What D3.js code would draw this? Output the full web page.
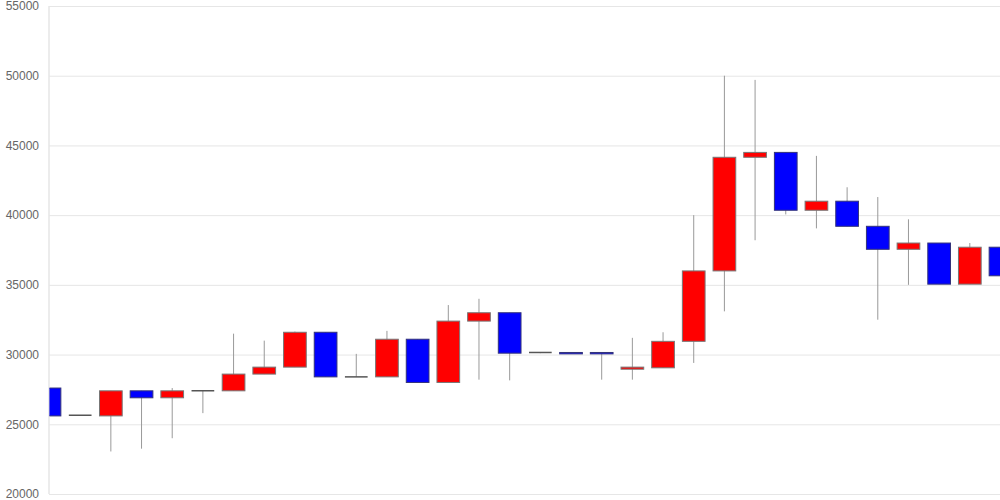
<!DOCTYPE html>
<html>
<head>
<meta charset="utf-8">
<script src="https://cdn.jsdelivr.net/npm/d3@7"></script>
<style>
  body { margin: 0; background: #fff; }
  text { font-family: "Liberation Sans", Arial, sans-serif; }
</style>
</head>
<body>
<svg id="chart" width="1000" height="500"></svg>
<script>
// candle data (one entry per day)
var opens  = [27600, 25650, 25600, 27400, 26900, 27400, 27400, 28600, 29100, 31600,
              28400, 28400, 31100, 28000, 32400, 33000, 30150, 30150, 30150, 28950,
              29050, 30950, 36000, 44150, 44500, 40350, 41000, 39200, 37550, 38000,
              35050, 37700];
var closes = [25600, 25650, 27400, 26900, 27400, 27400, 28600, 29100, 31600, 28400,
              28400, 31100, 28000, 32400, 33000, 30100, 30150, 30050, 30050, 29100,
              30950, 36000, 44150, 44500, 40350, 41000, 39200, 37550, 38000, 35050,
              37700, 35650];
var highs  = [27600, 25650, 27400, 27400, 27600, 27400, 31500, 31000, 31650, 31600,
              30050, 31700, 31100, 33550, 34000, 33000, 30150, 30150, 30150, 31200,
              31600, 40000, 50000, 49700, 44500, 44250, 42000, 41300, 39700, 38000,
              38000, 37700];
var lows   = [25600, 25650, 23050, 23250, 24000, 25800, 27400, 28600, 29100, 28400,
              28400, 28400, 28000, 28000, 28200, 28150, 30100, 30050, 28200, 28200,
              29050, 29400, 33100, 38200, 40050, 39050, 39200, 32500, 35000, 35050,
              35050, 35650];
var yTicks = [20000, 25000, 30000, 35000, 40000, 45000, 50000, 55000];

var data = opens.map(function(o, i) {
  return { i: i, open: o, close: closes[i], high: highs[i], low: lows[i] };
});

// plot box (note: "top" is taken by window.top, so use other names)
var plotLeft = 49.5, plotRight = 1000.5, plotTop = 6, plotBottom = 494;

var svg = d3.select('#chart');

var x = d3.scalePoint()
  .domain(d3.range(data.length))
  .range([plotLeft, plotRight]);

var y = d3.scaleLinear()
  .domain([20000, 55000])
  .range([plotBottom, plotTop]);

var bodyW = x.step() * 0.74;

// grid lines + labels
var yAxis = d3.axisLeft(y)
  .tickValues(yTicks)
  .tickSize(-(1000 - 49))
  .tickPadding(10)
  .tickFormat(d3.format('d'));

var gy = svg.append('g')
  .attr('transform', 'translate(49,0)')
  .call(yAxis);

gy.select('.domain').remove();
gy.selectAll('.tick line')
  .style('stroke', '#e6e6e6')
  .style('stroke-width', 1);
gy.selectAll('.tick text')
  .style('font-size', '12px')
  .style('fill', '#666')
  .attr('x', -10);

// left axis line
svg.append('line')
  .attr('x1', 49).attr('x2', 49)
  .attr('y1', y(55000)).attr('y2', y(20000))
  .style('stroke', '#e6e6e6')
  .style('stroke-width', 1.5);

// clip so the first candle is cut at the axis
svg.append('clipPath')
  .attr('id', 'plotClip')
  .append('rect')
  .attr('x', 49.5).attr('y', 0)
  .attr('width', 960).attr('height', 500);

var plot = svg.append('g').attr('clip-path', 'url(#plotClip)');

// wicks
plot.selectAll('line.wick')
  .data(data.filter(function(d) { return d.high !== d.low; }))
  .enter()
  .append('line')
  .attr('class', 'wick')
  .attr('x1', function(d) { return x(d.i); })
  .attr('x2', function(d) { return x(d.i); })
  .attr('y1', function(d) { return y(d.high); })
  .attr('y2', function(d) { return y(d.low); })
  .style('stroke', '#999')
  .style('stroke-width', 1);

// bodies (red = up, blue = down)
plot.selectAll('rect.body')
  .data(data.filter(function(d) { return d.open !== d.close; }))
  .enter()
  .append('rect')
  .attr('class', 'body')
  .attr('x', function(d) { return x(d.i) - bodyW / 2; })
  .attr('width', bodyW)
  .attr('y', function(d) { return y(Math.max(d.open, d.close)); })
  .attr('height', function(d) { return Math.max(1, Math.abs(y(d.open) - y(d.close))); })
  .attr('fill', function(d) { return d.close > d.open ? '#ff0000' : '#0000ff'; })
  .style('stroke', function(d) { return d.close > d.open ? '#777' : '#33337a'; })
  .style('stroke-width', 1);

// doji: open == close, just a flat line
plot.selectAll('line.doji')
  .data(data.filter(function(d) { return d.open === d.close; }))
  .enter()
  .append('line')
  .attr('class', 'doji')
  .attr('x1', function(d) { return x(d.i) - bodyW / 2; })
  .attr('x2', function(d) { return x(d.i) + bodyW / 2; })
  .attr('y1', function(d) { return y(d.open); })
  .attr('y2', function(d) { return y(d.open); })
  .style('stroke', '#555')
  .style('stroke-width', 1.5);
</script>
</body>
</html>
